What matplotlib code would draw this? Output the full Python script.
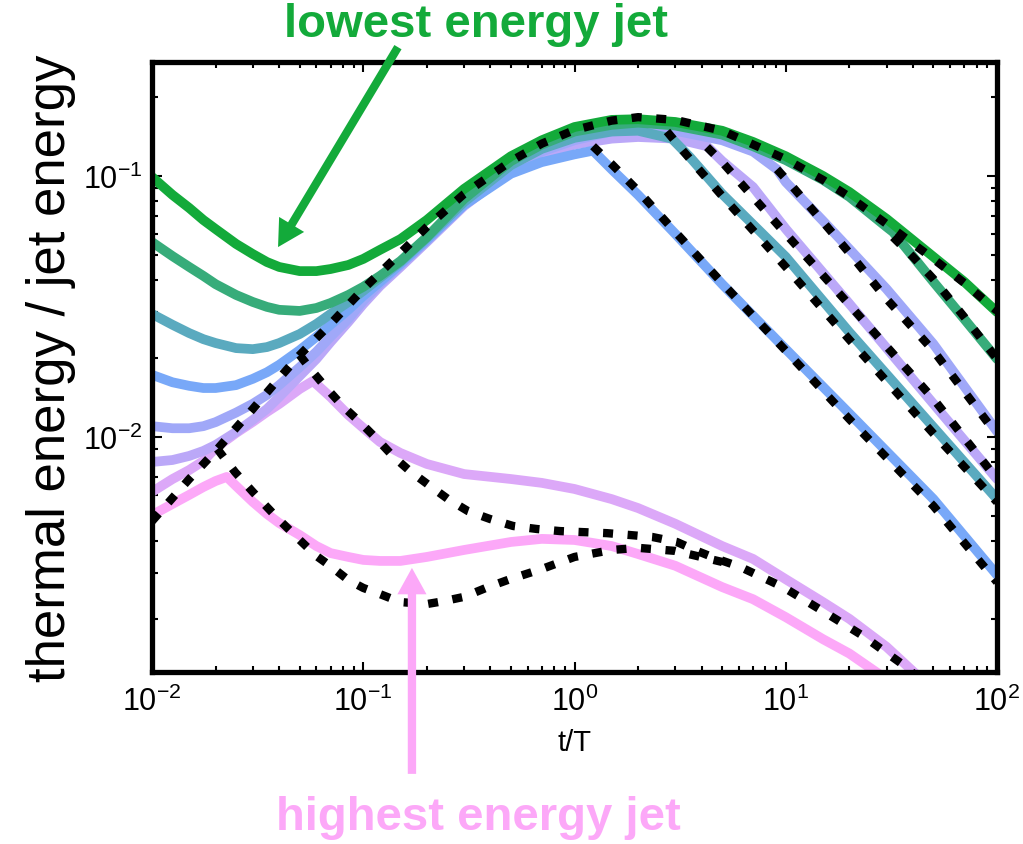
import matplotlib.pyplot as plt
from matplotlib.ticker import LogLocator, NullFormatter

plt.rcParams['font.family'] = ['Liberation Sans', 'DejaVu Sans']
plt.rcParams['mathtext.fontset'] = 'custom'
plt.rcParams['mathtext.rm'] = 'Liberation Sans'
plt.rcParams['mathtext.it'] = 'Liberation Sans:italic'
plt.rcParams['mathtext.bf'] = 'Liberation Sans:bold'

# ---- simulated jets, lowest energy (green) to highest energy (pink) ----
t_early = [0.01, 0.0125, 0.015, 0.0175, 0.02, 0.025, 0.03, 0.035, 0.04, 0.05,
           0.06, 0.07, 0.085, 0.1, 0.12, 0.15, 0.2, 0.3]
t_late = [0.5, 0.7, 1, 1.5, 2, 3, 5, 7, 10, 15, 20, 30, 50, 70, 100]

t_jet1 = t_early + t_late
e_jet1 = [0.0991, 0.0846, 0.0754, 0.0678, 0.0626, 0.0549, 0.0502, 0.0468, 0.0448,
          0.0432, 0.0432, 0.0440, 0.0456, 0.0481, 0.0521, 0.0573, 0.0678, 0.0892,
          0.119, 0.137, 0.154, 0.164, 0.165, 0.161, 0.149, 0.135, 0.119, 0.100,
          0.0868, 0.0685, 0.0490, 0.0393, 0.0301]

t_jet2 = t_early + [0.5, 0.7, 1, 1.5, 2, 3, 5, 7, 10, 15, 20, 30, 32.2, 50, 70, 100]
e_jet2 = [0.0558, 0.0493, 0.0448, 0.0414, 0.0385, 0.0350, 0.0329, 0.0315, 0.0307,
          0.0304, 0.0312, 0.0326, 0.0350, 0.0376, 0.0414, 0.0472, 0.0583, 0.0817,
          0.114, 0.132, 0.148, 0.157, 0.160, 0.156, 0.144, 0.130, 0.115, 0.0966,
          0.0832, 0.0638, 0.0610, 0.0393, 0.0283, 0.0199]

t_jet3 = t_early + [0.5, 0.7, 1, 1.5, 2, 2.89, 3.52, 5, 10, 20, 50, 100]
e_jet3 = [0.0296, 0.0269, 0.0250, 0.0237, 0.0229, 0.0219, 0.0217, 0.0221, 0.0229,
          0.0248, 0.0271, 0.0296, 0.0329, 0.0363, 0.0407, 0.0468, 0.0579, 0.0795,
          0.110, 0.127, 0.140, 0.148, 0.149, 0.139, 0.118, 0.0853, 0.0490, 0.0252,
          0.0109, 0.00578]

t_jet4 = t_early + [0.5, 0.7, 1, 1.224, 1.5, 2, 3, 5, 10, 20, 50, 100]
e_jet4 = [0.0173, 0.0162, 0.0157, 0.0154, 0.0154, 0.0158, 0.0167, 0.0177, 0.0189,
          0.0215, 0.0242, 0.0269, 0.0307, 0.0347, 0.0393, 0.0460, 0.0569, 0.0774,
          0.102, 0.113, 0.121, 0.125, 0.106, 0.0846, 0.0600, 0.0385, 0.0217, 0.0123,
          0.00578, 0.00296]

t_jet5 = t_early + [0.5, 0.7, 1, 1.5, 2, 3, 5, 7, 9.09, 10, 15, 20, 30, 50, 100]
e_jet5 = [0.0110, 0.0108, 0.0108, 0.0110, 0.0114, 0.0124, 0.0134, 0.0145, 0.0158,
          0.0185, 0.0212, 0.0242, 0.0283, 0.0332, 0.0386, 0.0456, 0.0564, 0.0781,
          0.106, 0.124, 0.137, 0.148, 0.151, 0.149, 0.137, 0.124, 0.106, 0.0948,
          0.0673, 0.0525, 0.0369, 0.0227, 0.0105]

t_jet6 = t_early + [0.5, 0.7, 1, 1.5, 2, 3, 4.24, 5, 7, 10, 20, 50, 100]
e_jet6 = [0.00802, 0.00816, 0.00846, 0.00884, 0.00932, 0.01045, 0.01162, 0.0128,
          0.01423, 0.01713, 0.0199, 0.0231, 0.0276, 0.0323, 0.0379, 0.0448, 0.0559,
          0.0767, 0.105, 0.119, 0.132, 0.139, 0.141, 0.139, 0.130, 0.114, 0.0907,
          0.0627, 0.0324, 0.0134, 0.00690]

t_jet7 = [0.01, 0.0125, 0.015, 0.0175, 0.02, 0.025, 0.03, 0.035, 0.04, 0.05, 0.0578,
          0.07, 0.085, 0.1, 0.12, 0.15, 0.2, 0.3, 0.5, 0.7, 1, 1.5, 2, 3, 5, 7, 10,
          15, 20, 30, 50]
e_jet7 = [0.00616, 0.00690, 0.00747, 0.00809, 0.00908, 0.01036, 0.01142, 0.01247,
          0.01338, 0.01527, 0.01639, 0.01423, 0.01214, 0.01083, 0.00957, 0.00868,
          0.00788, 0.00721, 0.00690, 0.00667, 0.00632, 0.00578, 0.00534, 0.00465,
          0.00382, 0.00341, 0.00285, 0.00233, 0.00201, 0.00157, 0.00107]

t_jet8 = [0.01, 0.0125, 0.015, 0.0175, 0.02, 0.0226, 0.025, 0.03, 0.035, 0.04, 0.05,
          0.06, 0.07, 0.085, 0.1, 0.12, 0.15, 0.2, 0.3, 0.5, 0.7, 1, 1.5, 2, 3, 5,
          7, 10, 15, 20, 30]
e_jet8 = [0.00502, 0.00554, 0.00600, 0.00643, 0.00678, 0.00703, 0.00649, 0.00564,
          0.00507, 0.00468, 0.00421, 0.00382, 0.00359, 0.00347, 0.00338, 0.00335,
          0.00335, 0.00347, 0.00369, 0.00396, 0.00407, 0.00403, 0.00382, 0.00356,
          0.00321, 0.00266, 0.00239, 0.00204, 0.00168, 0.00148, 0.00118]

jet_t = [t_jet1, t_jet2, t_jet3, t_jet4, t_jet5, t_jet6, t_jet7, t_jet8]
jet_e = [e_jet1, e_jet2, e_jet3, e_jet4, e_jet5, e_jet6, e_jet7, e_jet8]
jet_colors = ['#13AA3A', '#37AC7A', '#5AAABF', '#78A8F8',
              '#A0A8F8', '#BBA8F8', '#DCA8F8', '#FCA8F8']

# ---- analytic model tracks (dotted) ----
t_model_env = [0.01, 0.015, 0.02, 0.03, 0.04, 0.05, 0.07, 0.1, 0.15, 0.2, 0.3, 0.5,
               0.7, 1, 1.5, 2, 3, 5, 7, 10, 15, 20, 30, 50, 70, 100]
e_model_env = [0.00476, 0.00690, 0.00883, 0.0128, 0.0168, 0.0206, 0.0271, 0.0369,
               0.0507, 0.0638, 0.0853, 0.114, 0.133, 0.150, 0.163, 0.168, 0.164,
               0.149, 0.132, 0.116, 0.0966, 0.0832, 0.0655, 0.0481, 0.0389, 0.0304]

t_model_hi = [0.0204, 0.0247, 0.03, 0.035, 0.04, 0.05, 0.06, 0.07, 0.085, 0.1, 0.12,
              0.15, 0.2, 0.241, 0.3, 0.39, 0.5, 0.7, 1, 1.5, 2, 3, 5]
e_model_hi = [0.00899, 0.00734, 0.00616, 0.00539, 0.00481, 0.00403, 0.00350, 0.00320,
              0.00283, 0.00264, 0.00250, 0.00233, 0.00229, 0.00235, 0.00244, 0.00266,
              0.00286, 0.00312, 0.00347, 0.00369, 0.00376, 0.00366, 0.00332]

t_model_mid = [0.05, 0.0572, 0.0674, 0.0802, 0.0965, 0.116, 0.138, 0.166, 0.207,
               0.252, 0.313, 0.398, 0.512, 0.664, 0.853, 1.097, 1.425, 1.832, 2.33,
               3.05, 3.80, 4.73, 6.07, 9.71, 15.0, 23.2, 35.5, 43.2]
e_model_mid = [0.0206, 0.0179, 0.0153, 0.0131, 0.0114, 0.00982, 0.00845, 0.00741,
               0.00649, 0.00578, 0.00520, 0.00485, 0.00456, 0.00444, 0.00436, 0.00432,
               0.00428, 0.00421, 0.00414, 0.00396, 0.00366, 0.00341, 0.00318, 0.00266,
               0.00215, 0.00173, 0.00135, 0.00118]

t_model_b4 = [1.224, 1.5, 2, 3, 5, 10, 20, 50, 100]
e_model_b4 = [0.130, 0.111, 0.0877, 0.0610, 0.0389, 0.0214, 0.0117, 0.00544, 0.00278]

t_model_b3 = [2.74, 3.26, 3.80, 5, 10, 20, 50, 100]
e_model_b3 = [0.148, 0.125, 0.108, 0.0838, 0.0448, 0.0236, 0.0103, 0.00563]

t_model_b6 = [4.24, 5, 10, 20, 50, 100]
e_model_b6 = [0.129, 0.113, 0.0600, 0.0321, 0.0140, 0.00690]

t_model_b5 = [9.09, 10, 15, 20, 30, 50, 100]
e_model_b5 = [0.106, 0.0975, 0.0667, 0.0507, 0.0338, 0.0214, 0.0102]

t_model_b2 = [32.2, 40.0, 50, 70, 100]
e_model_b2 = [0.0583, 0.0490, 0.0403, 0.0288, 0.0199]

model_t = [t_model_env, t_model_hi, t_model_mid, t_model_b4, t_model_b3,
           t_model_b6, t_model_b5, t_model_b2]
model_e = [e_model_env, e_model_hi, e_model_mid, e_model_b4, e_model_b3,
           e_model_b6, e_model_b5, e_model_b2]

fig = plt.figure(figsize=(10.23, 8.45), dpi=100)
ax = fig.add_axes([0.1486, 0.2036, 0.8260, 0.7219])

# highest energy first so the green jet ends up on top
for t, e, c in reversed(list(zip(jet_t, jet_e, jet_colors))):
    ax.plot(t, e, color=c, lw=7, solid_capstyle='round',
            solid_joinstyle='round', zorder=2)

for t, e in zip(model_t, model_e):
    ax.plot(t, e, color='black', lw=6, linestyle=(0, (1.2, 1.75)), zorder=3)

ax.set_xscale('log')
ax.set_yscale('log')
ax.set_xlim(0.01, 100)
ax.set_ylim(0.001258, 0.2734)

ax.xaxis.set_major_locator(LogLocator(base=10))
ax.xaxis.set_minor_locator(LogLocator(base=10, subs=range(2, 10)))
ax.yaxis.set_minor_locator(LogLocator(base=10, subs=range(2, 10)))
ax.xaxis.set_minor_formatter(NullFormatter())
ax.yaxis.set_minor_formatter(NullFormatter())

ax.tick_params(which='both', direction='in', top=True, right=True,
               width=1.5, color='black')
ax.tick_params(which='major', length=7.5, labelsize=22)
ax.tick_params(axis='x', which='major', pad=10)
ax.tick_params(axis='y', which='major', pad=7)
ax.tick_params(which='minor', length=4)
for s in ax.spines.values():
    s.set_linewidth(3.8)

ax.set_xlabel('t/T', fontsize=21, labelpad=8)
ax.set_ylabel('thermal energy / jet energy', fontsize=38)
ax.yaxis.set_label_coords(-0.09, 0.5)

# labels pointing at the two extreme jets
fig.text(0.465, 0.970, 'lowest energy jet', color=jet_colors[0], fontsize=34,
         fontweight='bold', ha='center', va='center')
fig.text(0.468, 0.032, 'highest energy jet', color=jet_colors[7], fontsize=34,
         fontweight='bold', ha='center', va='center')

arrow_style = 'simple,head_length=1.9,head_width=2.1,tail_width=0.6'
ax.annotate('', xy=(0.0395, 0.0534), xycoords='data',
            xytext=(0.389, 0.943), textcoords='figure fraction',
            arrowprops=dict(arrowstyle=arrow_style, mutation_scale=10, lw=0,
                            color=jet_colors[0], shrinkA=0, shrinkB=0),
            annotation_clip=False)
ax.annotate('', xy=(0.170, 0.00315), xycoords='data',
            xytext=(0.4027, 0.083), textcoords='figure fraction',
            arrowprops=dict(arrowstyle=arrow_style, mutation_scale=10, lw=0,
                            color=jet_colors[7], shrinkA=0, shrinkB=0),
            annotation_clip=False)

fig.savefig('out.png', dpi=100)
